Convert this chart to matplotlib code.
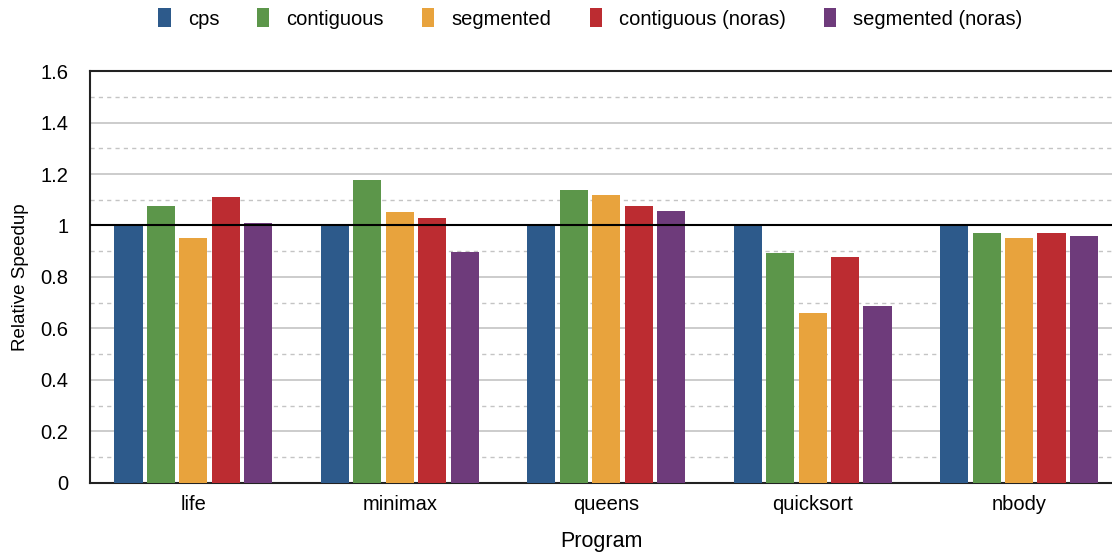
import matplotlib
matplotlib.use("Agg")
import matplotlib.pyplot as plt
import numpy as np
from matplotlib.ticker import MultipleLocator

plt.rcParams['font.family'] = ['Liberation Sans', 'DejaVu Sans']

programs = ["life", "minimax", "queens", "quicksort", "nbody"]
series_names = ["cps", "contiguous", "segmented", "contiguous (noras)", "segmented (noras)"]
cps = [1.0, 1.0, 1.0, 1.0, 1.0]
contiguous = [1.076, 1.177, 1.138, 0.893, 0.971]
segmented = [0.951, 1.052, 1.118, 0.660, 0.951]
contiguous_noras = [1.111, 1.029, 1.076, 0.878, 0.971]
segmented_noras = [1.010, 0.897, 1.056, 0.687, 0.959]
series = [cps, contiguous, segmented, contiguous_noras, segmented_noras]
colors = ["#2d5a8b", "#5c964a", "#e8a33d", "#bc2c31", "#6e3b7b"]

fig = plt.figure(figsize=(11.12, 5.56), dpi=100)
ax = fig.add_axes([0.081, 0.1313, 0.919, 0.741])

x = np.arange(len(programs))
pitch = 0.157
width = 0.136
for i, (vals, name, c) in enumerate(zip(series, series_names, colors)):
    ax.bar(x + (i - 2) * pitch, vals, width, color=c, label=name, zorder=3)

ax.set_ylim(0, 1.6)
ax.set_xlim(-0.5, 4.45)
ax.yaxis.set_minor_locator(MultipleLocator(0.1))
ax.set_yticks([0, 0.2, 0.4, 0.6, 0.8, 1.0, 1.2, 1.4, 1.6])
ax.set_yticklabels(["0", "0.2", "0.4", "0.6", "0.8", "1", "1.2", "1.4", "1.6"])
ax.grid(axis='y', which='major', color='#c4c4c4', linewidth=1.2, zorder=0)
ax.grid(axis='y', which='minor', color='#c4c4c4', linewidth=1.0, linestyle=(0, (3, 3)), zorder=0)
ax.axhline(1.0, color='black', linewidth=1.5, zorder=4)

ax.set_xticks(x)
ax.set_xticklabels(programs)
ax.tick_params(axis='both', which='both', length=0, labelsize=14.5)
ax.tick_params(axis='x', pad=9)
ax.tick_params(axis='y', pad=15.5)

ax.spines['right'].set_visible(False)
for s in ['top', 'left', 'bottom']:
    ax.spines[s].set_color('#222222')
    ax.spines[s].set_linewidth(1.5)

ax.set_xlabel("Program", fontsize=15.5, labelpad=12)
ax.set_ylabel("Relative Speedup", fontsize=13.5, labelpad=8)

fig.legend(loc='upper center', bbox_to_anchor=(0.531, 1.018), ncol=5, frameon=False,
           fontsize=14.5, handlelength=0.6, handleheight=1.1, columnspacing=1.9,
           handletextpad=0.85)

fig.savefig("out.png", dpi=100)
